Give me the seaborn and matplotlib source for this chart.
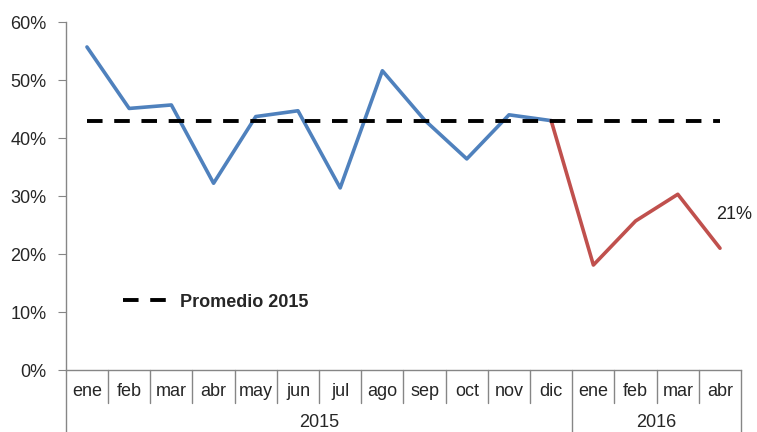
import matplotlib.pyplot as plt
import seaborn as sns
import pandas as pd
import numpy as np

months = ["ene", "feb", "mar", "abr", "may", "jun", "jul", "ago", "sep", "oct", "nov", "dic",
          "ene", "feb", "mar", "abr"]
years = ["2015"] * 12 + ["2016"] * 4
values = [55.7, 45.1, 45.7, 32.2, 43.7, 44.7, 31.4, 51.6, 43.1, 36.4, 44.0, 43.0,
          18.1, 25.7, 30.3, 21.0]
promedio_2015 = 43.0
last_label = "21%"

df = pd.DataFrame({"pos": np.arange(len(months)), "mes": months, "anio": years, "valor": values})
df_2015 = df[df["anio"] == "2015"]
df_2016 = df[df.index >= 11]  # the red segment starts at dic 2015

sns.set_style("white")
plt.rcParams["font.family"] = ["Liberation Sans", "DejaVu Sans"]

fig = plt.figure(figsize=(7.57, 4.32), dpi=100)
ax = fig.add_axes([0.087, 0.1435, 0.892, 0.8055])

grey = "#868686"
fs = 13

sns.lineplot(x="pos", y="valor", data=df_2015, color="#4F81BD", lw=2.6, ax=ax)
sns.lineplot(x="pos", y="valor", data=df_2016, color="#C0504D", lw=2.6, ax=ax)
ax.plot([df["pos"].iloc[0], df["pos"].iloc[-1]], [promedio_2015, promedio_2015],
        color="black", lw=2.8, linestyle=(0, (4, 3)), label="Promedio 2015")

ax.annotate(last_label, (df["pos"].iloc[-1], values[-1]), xytext=(-3, 21),
            textcoords="offset points", fontsize=fs, color="#222222")

ax.set_xlim(-0.5, len(months) - 0.5)
ax.set_ylim(0, 60)
ax.set_yticks(np.arange(0, 61, 10))
ax.set_yticklabels([f"{t}%" for t in range(0, 61, 10)], fontsize=fs)
ax.set_xticks([])
ax.set_xlabel("")
ax.set_ylabel("")

for s in ["top", "right"]:
    ax.spines[s].set_visible(False)
for s in ["left", "bottom"]:
    ax.spines[s].set_color(grey)
    ax.spines[s].set_linewidth(1)
ax.spines["left"].set_bounds(0, 60)
ax.tick_params(axis="y", left=True, length=6, color=grey, pad=8)

# left axis line extended down through category rows
trans = ax.get_xaxis_transform()
ax.plot([-0.5, -0.5], [0, -0.18], transform=trans, color=grey, lw=1, clip_on=False)

# month separators and labels
for i, m in enumerate(months):
    ax.text(i, -0.062, m, transform=trans, ha="center", va="center", fontsize=fs)
for i in range(1, len(months)):
    bottom = -0.18 if years[i] != years[i - 1] else -0.095
    ax.plot([i - 0.5, i - 0.5], [0, bottom], transform=trans, color=grey, lw=1, clip_on=False)
ax.plot([len(months) - 0.5] * 2, [0, -0.18], transform=trans, color=grey, lw=1, clip_on=False)

# year labels
for y in ["2015", "2016"]:
    idx = [i for i, v in enumerate(years) if v == y]
    ax.text(np.mean(idx), -0.152, y, transform=trans, ha="center", va="center", fontsize=fs)

leg = ax.legend(loc="center left", bbox_to_anchor=(0.06, 0.195), frameon=False,
                handlelength=2.6, handletextpad=0.6, prop={"weight": "bold", "size": fs})

fig.savefig("out.png", dpi=100)
